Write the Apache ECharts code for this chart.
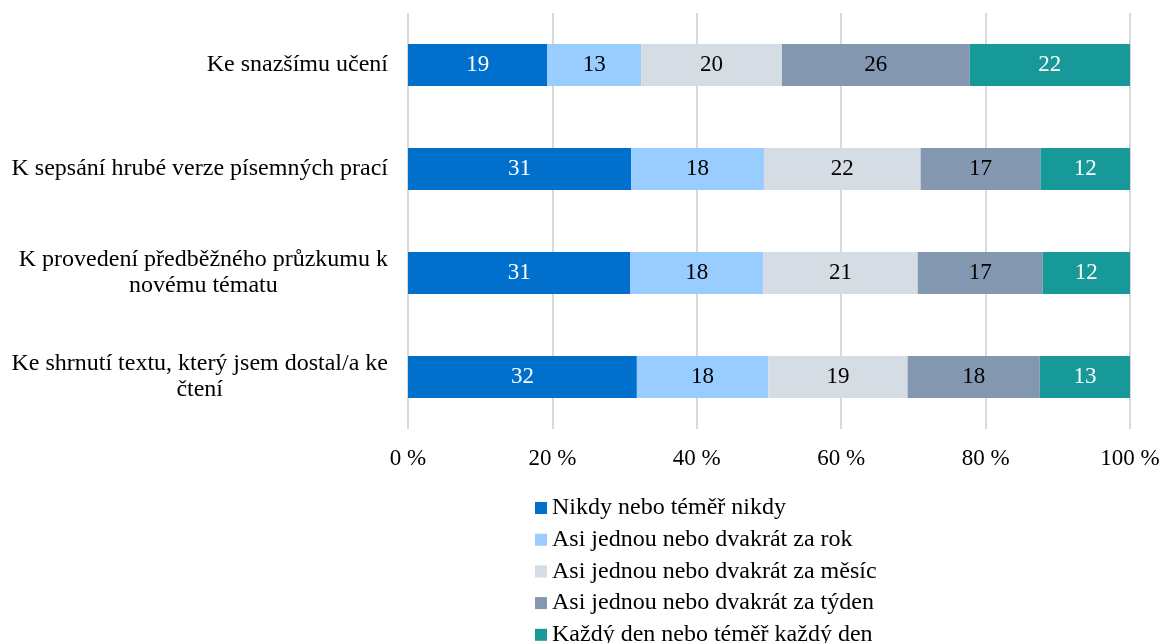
<!DOCTYPE html>
<html>
<head>
<meta charset="utf-8">
<script src="https://cdn.jsdelivr.net/npm/echarts@6/dist/echarts.min.js"></script>
<style>html,body{margin:0;padding:0;background:#fff}#c{width:1164px;height:643px}</style>
</head>
<body>
<div id="c"></div>
<script>
var categories = [
  'Ke snazšímu učení',
  'K sepsání hrubé verze písemných prací',
  'K provedení předběžného průzkumu k\nnovému tématu',
  'Ke shrnutí textu, který jsem dostal/a ke\nčtení'
];
var seriesNames = [
  'Nikdy nebo téměř nikdy',
  'Asi jednou nebo dvakrát za rok',
  'Asi jednou nebo dvakrát za měsíc',
  'Asi jednou nebo dvakrát za týden',
  'Každý den nebo téměř každý den'
];
var nikdy   = [19.3, 30.9, 30.8, 31.7];
var rok     = [13.0, 18.4, 18.4, 18.2];
var mesic   = [19.5, 21.7, 21.4, 19.3];
var tyden   = [26.0, 16.6, 17.3, 18.3];
var kazdy   = [22.2, 12.4, 12.1, 12.5];
var xTicks = [0, 20, 40, 60, 80, 100];

var values = [nikdy, rok, mesic, tyden, kazdy];
var colors = ['#0070CC', '#99CCFF', '#D6DCE4', '#8497B0', '#169998'];
var labelColors = ['#ffffff', '#000000', '#000000', '#000000', '#ffffff'];
var font = 'Liberation Serif, Times New Roman, serif';

var chart = echarts.init(document.getElementById('c'));
chart.setOption({
  animation: false,
  textStyle: { fontFamily: font },
  grid: { left: 408, right: 34, top: 13, bottom: 214, containLabel: false },
  xAxis: {
    type: 'value', min: 0, max: 100, interval: 20,
    axisLine: { show: false }, axisTick: { show: false },
    splitLine: { show: true, lineStyle: { color: '#d9d9d9', width: 2 } },
    axisLabel: { formatter: '{value} %', fontFamily: font, fontSize: 23, color: '#000', margin: 18 }
  },
  yAxis: {
    type: 'category', data: categories, inverse: true,
    axisLine: { show: false }, axisTick: { show: false },
    axisLabel: {
      fontFamily: font, fontSize: 24, color: '#000', margin: 20, align: 'right',
      formatter: function (v) { return v.split('\n').map(function (l) { return '{c|' + l + '}'; }).join('\n'); },
      rich: { c: { align: 'center', fontFamily: font, fontSize: 24, color: '#000', lineHeight: 26 } }
    }
  },
  legend: {
    orient: 'vertical', left: 530, top: 491, height: 170, itemWidth: 12, itemHeight: 12, itemGap: 7.7,
    icon: 'rect',
    textStyle: { fontFamily: font, fontSize: 24, color: '#000' },
    data: seriesNames
  },
  series: seriesNames.map(function (name, i) {
    return {
      name: name, type: 'bar', stack: 'total', barWidth: 42,
      data: values[i],
      itemStyle: { color: colors[i] },
      label: {
        show: true, position: 'inside', fontFamily: font, fontSize: 23, color: labelColors[i],
        formatter: function (p) { return Math.round(p.value); }
      }
    };
  })
});
</script>
</body>
</html>
